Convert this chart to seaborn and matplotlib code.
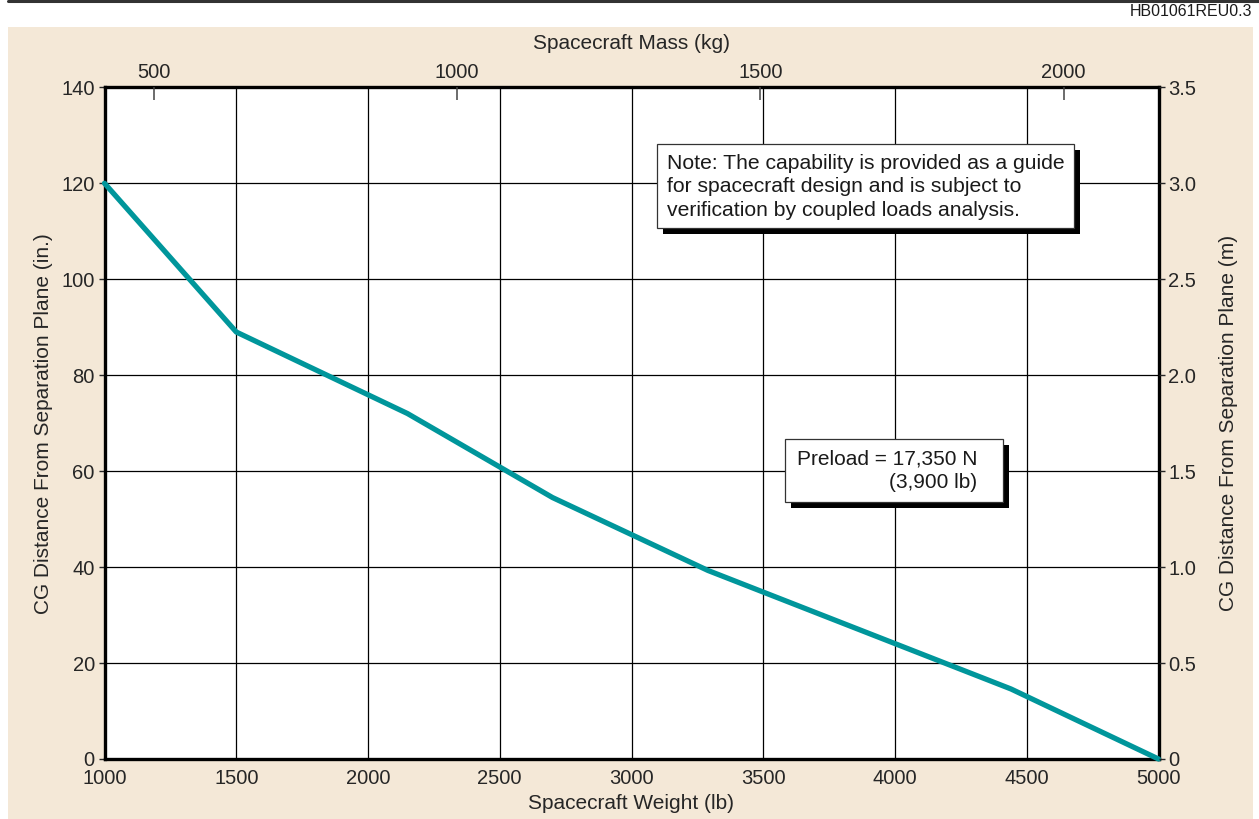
import numpy as np
import pandas as pd
import matplotlib
matplotlib.use("Agg")
import matplotlib.pyplot as plt
import matplotlib.patheffects as pe
from matplotlib.lines import Line2D
from matplotlib.patches import Rectangle
import seaborn as sns

# data
weight_lb = [1000, 1500, 2150, 2700, 3290, 4440, 5000]
cg_in = [120, 89, 72, 54.5, 39.3, 14.6, 0]

weight_ticks = [1000, 1500, 2000, 2500, 3000, 3500, 4000, 4500, 5000]
cg_in_ticks = [0, 20, 40, 60, 80, 100, 120, 140]
cg_m_ticks = [0, 0.5, 1.0, 1.5, 2.0, 2.5, 3.0, 3.5]
cg_m_labels = ["0", "0.5", "1.0", "1.5", "2.0", "2.5", "3.0", "3.5"]
mass_ticks = [500, 1000, 1500, 2000]
mass_lim = (418.9, 2156.5)  # top scale as drawn in the reference

note_text = ("Note: The capability is provided as a guide\n"
             "for spacecraft design and is subject to\n"
             "verification by coupled loads analysis.")
preload_text = "Preload = 17,350 N\n(3,900 lb)"

LINE_COLOR = "#00969B"
BG = "#F4E8D7"
FS = 14.5

sns.set_theme(style="white")
plt.rcParams["font.family"] = ["Liberation Sans", "DejaVu Sans"]
plt.rcParams["text.color"] = "#1a1a1a"

fig = plt.figure(figsize=(12.59, 8.19), dpi=100)
fig.patch.set_facecolor("white")

# beige panel and top rule
fig.add_artist(Rectangle((8 / 1259, 0), 1245 / 1259, 1 - 27 / 819,
                         transform=fig.transFigure, facecolor=BG,
                         edgecolor="none", zorder=-10))
fig.add_artist(Line2D([8 / 1259, 1.0], [1 - 1.2 / 819, 1 - 1.2 / 819],
                      transform=fig.transFigure, color="#333333", lw=2.2))
fig.text(1252 / 1259, 1 - 12 / 819, "HB01061REU0.3", ha="right", va="center",
         fontsize=11.5)

ax = fig.add_axes([104.5 / 1259, 1 - 759 / 819, 1054 / 1259, 671.7 / 819])
ax.set_facecolor("white")

df = pd.DataFrame({"weight": weight_lb, "cg": cg_in})
sns.lineplot(data=df, x="weight", y="cg", ax=ax, color=LINE_COLOR, lw=3.8,
             zorder=5, clip_on=False)

ax.set_xlim(1000, 5000)
ax.set_ylim(0, 140)
ax.set_xticks(weight_ticks)
ax.set_yticks(cg_in_ticks)
ax.grid(True, color="black", lw=0.9)
for s in ax.spines.values():
    s.set_visible(True)
    s.set_color("black")
    s.set_linewidth(2.4)
ax.tick_params(axis="x", length=0, pad=7, labelsize=FS)
ax.tick_params(axis="y", direction="out", length=4.5, width=1, pad=2.5,
               labelsize=FS, left=True)
ax.set_xlabel("Spacecraft Weight (lb)", fontsize=15)
ax.set_ylabel("CG Distance From Separation Plane (in.)", fontsize=15)
ax.xaxis.set_label_coords(0.5, -0.052)
ax.yaxis.set_label_coords(-0.049, 0.5)

# right axis in metres
axr = ax.twinx()
axr.set_ylim(0, 3.5)
axr.set_yticks(cg_m_ticks)
axr.set_yticklabels(cg_m_labels)
axr.grid(False)
axr.tick_params(axis="y", direction="out", length=4.5, width=1, pad=2.5,
                labelsize=FS, right=True)
axr.set_ylabel("CG Distance From Separation Plane (m)", fontsize=15)
axr.yaxis.set_label_coords(1.057, 0.5)
for s in axr.spines.values():
    s.set_visible(False)

# top axis in kg
axt = ax.twiny()
axt.set_xlim(*mass_lim)
axt.set_xticks(mass_ticks)
axt.grid(False)
axt.tick_params(axis="x", direction="in", length=9.5, width=1.1,
                color="#444444", pad=4, labelsize=FS, top=True)
axt.set_xlabel("Spacecraft Mass (kg)", fontsize=15)
axt.xaxis.set_label_coords(0.5, 1.057)
for s in axt.spines.values():
    s.set_visible(False)

shadow = [pe.SimplePatchShadow(offset=(4.3, -4.3), shadow_rgbFace="black",
                               alpha=1.0), pe.Normal()]


def boxed_note(x0, x1, y0, y1):
    r = Rectangle((x0, y0), x1 - x0, y1 - y0, facecolor="white",
                  edgecolor="#333333", lw=0.9, zorder=9)
    r.set_path_effects(shadow)
    ax.add_patch(r)


# note box
boxed_note(3098, 4681, 110.7, 128.2)
ax.text(3136, 126.2, note_text, fontsize=15.2, ha="left", va="top",
        linespacing=1.3, zorder=10)

# preload box
boxed_note(3584, 4411, 53.6, 66.7)
ax.text(3627, 64.5, preload_text, fontsize=15, ha="left", va="top",
        multialignment="right", linespacing=1.32, zorder=10)

fig.savefig("out.png", dpi=100, facecolor=fig.get_facecolor())
